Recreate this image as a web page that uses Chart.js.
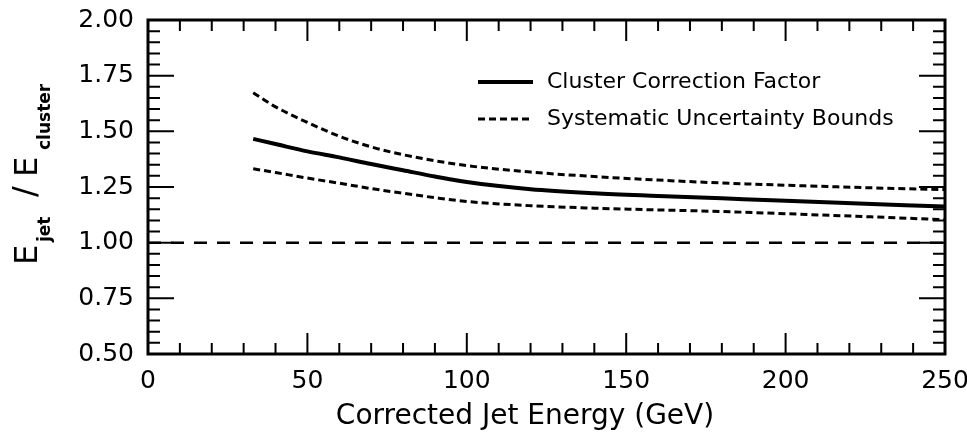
<!DOCTYPE html>
<html>
<head>
<meta charset="utf-8">
<script src="https://cdn.jsdelivr.net/npm/chart.js@4"></script>
<style>
body{margin:0;background:#fff}
</style>
</head>
<body>
<canvas id="corrChart" width="967" height="434"></canvas>
<script>

// jet energy (GeV) and the correction curves
const energy = [33,40,50,60,70,80,90,100,120,140,160,180,200,225,250]
const correction = [1.466,1.443,1.41,1.383,1.353,1.325,1.297,1.272,1.24,1.222,1.21,1.199,1.188,1.175,1.162]
const upperBound = [1.673,1.61,1.54,1.478,1.43,1.395,1.368,1.346,1.317,1.297,1.281,1.268,1.258,1.247,1.238]
const lowerBound = [1.332,1.315,1.29,1.267,1.243,1.222,1.202,1.185,1.166,1.155,1.147,1.14,1.13,1.117,1.103]

// unity line
const unityX = [0,250]
const unityY = [1.00,1.00]

const xTicks = [0,50,100,150,200,250]
const yTicks = [0.50,0.75,1.00,1.25,1.50,1.75,2.00]

const FONT = "'DejaVu Sans', sans-serif"

function pts(xs,ys){
return xs.map((x,i)=>({x:x,y:ys[i]}))
}

// inward ticks on all four sides + frame
const frame = {
id:'frame',
afterDraw(chart){
const {ctx, chartArea:a, scales} = chart
ctx.save()
ctx.strokeStyle = '#000'
ctx.lineWidth = 2

for(let i=0;i<=25;i++){
let v = i*10
let px = scales.x.getPixelForValue(v)
let len = (v%50==0) ? 21 : 11
ctx.beginPath()
ctx.moveTo(px,a.bottom); ctx.lineTo(px,a.bottom-len)
ctx.moveTo(px,a.top); ctx.lineTo(px,a.top+len)
ctx.stroke()
}

for(let i=0;i<=30;i++){
let v = 0.5 + i*0.05
let py = scales.y.getPixelForValue(v)
let len = (i%5==0) ? 26 : 12
ctx.beginPath()
ctx.moveTo(a.left,py); ctx.lineTo(a.left+len,py)
ctx.moveTo(a.right,py); ctx.lineTo(a.right-len,py)
ctx.stroke()
}

ctx.lineWidth = 3
ctx.strokeRect(a.left,a.top,a.right-a.left,a.bottom-a.top)
ctx.restore()
}
}

// axis titles (y title has subscripts) and the legend box
const labels = {
id:'labels',
afterDraw(chart){
const ctx = chart.ctx
const ds = chart.data.datasets
ctx.save()
ctx.fillStyle = '#000'
ctx.textBaseline = 'alphabetic'

ctx.font = "28px "+FONT
ctx.textAlign = 'center'
ctx.fillText('Corrected Jet Energy (GeV)',525,424)

ctx.translate(37,174)
ctx.rotate(-Math.PI/2)
ctx.textAlign = 'left'
ctx.font = "32px "+FONT
ctx.fillText('E',-91,0)
ctx.fillText('/',-23,-2)
ctx.fillText('E',-3,0)
ctx.font = "bold 17px "+FONT
ctx.fillText('jet',-68,13)
ctx.fillText('cluster',24,13)
ctx.setTransform(1,0,0,1,0,0)

let rows = [{d:ds[0],y:82},{d:ds[1],y:119}]
rows.forEach(r=>{
ctx.strokeStyle = '#000'
ctx.lineWidth = r.d.borderWidth
ctx.setLineDash(r.d.borderDash || [])
ctx.beginPath()
ctx.moveTo(478,r.y); ctx.lineTo(533,r.y)
ctx.stroke()
ctx.setLineDash([])
ctx.font = "22px "+FONT
ctx.textBaseline = 'middle'
ctx.fillText(r.d.label,547,r.y)
})
ctx.restore()
}
}

new Chart(document.getElementById('corrChart'),{
type:'line',
data:{
datasets:[{
label:'Cluster Correction Factor',
data:pts(energy,correction),
borderColor:'#000',
borderWidth:4,
pointRadius:0,
cubicInterpolationMode:'monotone'
},{
label:'Systematic Uncertainty Bounds',
data:pts(energy,upperBound),
borderColor:'#000',
borderWidth:3,
borderDash:[7,4],
pointRadius:0,
cubicInterpolationMode:'monotone'
},{
label:'Systematic Uncertainty Bounds',
data:pts(energy,lowerBound),
borderColor:'#000',
borderWidth:3,
borderDash:[7,4],
pointRadius:0,
cubicInterpolationMode:'monotone'
},{
label:'unity',
data:pts(unityX,unityY),
borderColor:'#000',
borderWidth:2.5,
borderDash:[13,10],
pointRadius:0
}]
},
options:{
responsive:false,
animation:false,
devicePixelRatio:1,
layout:{padding:{top:20,right:22,left:0,bottom:0}},
plugins:{legend:{display:false},tooltip:{enabled:false}},
scales:{
x:{
type:'linear',
min:0,max:250,
afterBuildTicks:s=>{s.ticks = xTicks.map(v=>({value:v}))},
afterFit:s=>{s.height = 80; s.paddingLeft = 0; s.paddingRight = 0},
grid:{display:false,drawTicks:false},
border:{display:false},
ticks:{color:'#000',font:{family:FONT,size:25},padding:12,maxRotation:0}
},
y:{
min:0.5,max:2.0,
afterBuildTicks:s=>{s.ticks = yTicks.map(v=>({value:v}))},
afterFit:s=>{s.width = 148; s.paddingTop = 0; s.paddingBottom = 0},
grid:{display:false,drawTicks:false},
border:{display:false},
ticks:{color:'#000',font:{family:FONT,size:25},padding:14,callback:v=>v.toFixed(2)}
}
}
},
plugins:[frame,labels]
})

</script>
</body>
</html>
